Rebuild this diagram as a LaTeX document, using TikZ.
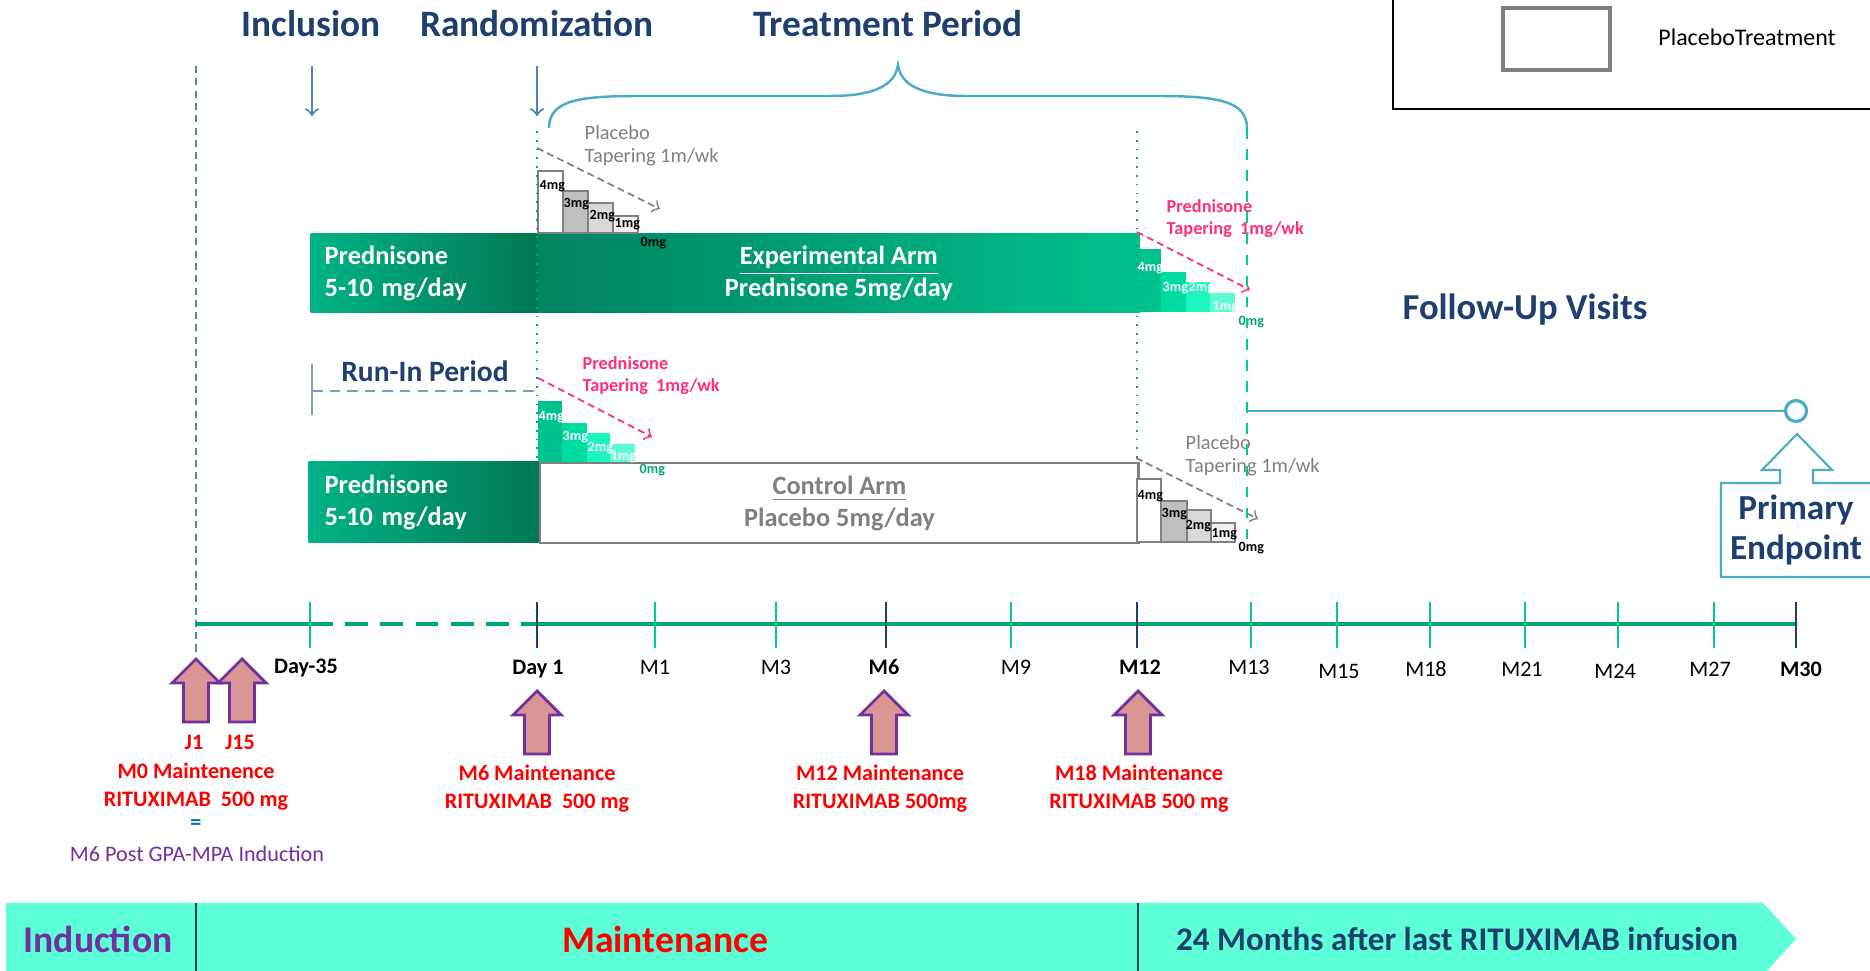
\documentclass[tikz,border=0pt]{standalone}
\usepackage{fontspec}
\setmainfont{Carlito}
\usepackage{xcolor}
\usepackage{tikz}

\definecolor{navy}{HTML}{1F3F6F}
\definecolor{arrowblue}{HTML}{4F81BD}
\definecolor{runblue}{HTML}{7F9CC8}
\definecolor{tealblue}{HTML}{4BACC6}
\definecolor{predL}{HTML}{00B386}
\definecolor{predR}{HTML}{007853}
\definecolor{expL}{HTML}{00845E}
\definecolor{expR}{HTML}{00C08E}
\definecolor{step4}{HTML}{00C28F}
\definecolor{step3}{HTML}{00DDA2}
\definecolor{step2}{HTML}{1CF5C0}
\definecolor{step1}{HTML}{5CFBD5}
\definecolor{zerogreen}{HTML}{00A478}
\definecolor{stepgray}{HTML}{808080}
\definecolor{pinkred}{HTML}{FF2E7E}
\definecolor{axisgreen}{HTML}{00A676}
\definecolor{mint}{HTML}{00CC90}
\definecolor{rtxred}{HTML}{FF0000}
\definecolor{rtxpurple}{HTML}{7030A0}
\definecolor{rtxfill}{HTML}{D99694}
\definecolor{eqblue}{HTML}{0070C0}
\definecolor{band}{HTML}{5CFFD6}

\begin{document}
\begin{tikzpicture}[
    x=0.01cm, y=-0.01cm,
    heading/.style={
        text=navy,
        font=\fontsize{10.6}{12}\selectfont\bfseries
    },
    predbox/.style={
        anchor=north west,
        inner xsep=0.14cm,
        text width=1.99cm,
        align=left,
        text=white,
        left color=predL,
        right color=predR,
        font=\fontsize{7.5}{9}\selectfont\bfseries
    },
    armbox/.style={
        anchor=north west,
        align=center,
        font=\fontsize{7.5}{9.1}\selectfont\bfseries
    },
    placebostep/.style={
        draw=stepgray,
        line width=0.6pt
    },
    mg/.style={
        anchor=west,
        inner sep=0pt,
        font=\fontsize{4}{4}\selectfont\bfseries
    },
    taper/.style={
        anchor=west,
        align=left,
        inner sep=0pt
    },
    arrow/.style={
        ->,
        draw=arrowblue,
        line width=0.6pt
    },
    taperarrow/.style={
        ->,
        dash pattern=on 2pt off 1.2pt,
        line width=0.5pt
    },
    tick/.style={
        draw=mint,
        line width=0.8pt
    },
    keytick/.style={
        draw=navy,
        line width=0.8pt
    },
    ticklabel/.style={
        font=\fontsize{6.3}{7}\selectfont
    },
    keylabel/.style={
        font=\fontsize{6.3}{7}\selectfont\bfseries
    },
    dose/.style={
        text=rtxred,
        align=center,
        font=\fontsize{6.3}{8}\selectfont\bfseries
    },
    phase/.style={
        font=\fontsize{10.7}{12}\selectfont\bfseries
    },
    rtxarrow/.pic={
        \draw[draw=rtxpurple, fill=rtxfill, line width=0.8pt, line join=miter]
            (0,0) -- (24,24) -- (12.5,24) -- (12.5,63) -- (-12.5,63)
            -- (-12.5,24) -- (-24,24) -- cycle;
    }
]

\useasboundingbox (0,0) rectangle (1870,971);

% Legend
\draw[line width=0.5pt] (1393,-5) rectangle (1880,109);
\draw[stepgray, line width=0.9pt] (1503,8) rectangle (1610,70);
\node[font=\fontsize{6.8}{8}\selectfont] (legend) at (1747,37) {PlaceboTreatment};

% Headings
\node[heading] (incl) at (311,24) {Inclusion};
\node[heading] (rando) at (537,24) {Randomization};
\node[heading] (treat) at (888,24) {Treatment Period};

\coordinate (inclA) at (312,66);
\coordinate (inclB) at (312,116);
\coordinate (randoA) at (537,66);
\coordinate (randoB) at (537,116);
\draw[arrow] (inclA) -- (inclB);
\draw[arrow] (randoA) -- (randoB);

% Brace over treatment period
\draw[tealblue, line width=0.7pt]
    (549,128) .. controls (549,100) and (580,96) .. (640,96) -- (830,96)
    .. controls (875,96) and (895,85) .. (898,65)
    .. controls (901,85) and (921,96) .. (966,96) -- (1155,96)
    .. controls (1215,96) and (1247,100) .. (1247,128);

% Induction limit
\draw[arrowblue, line width=0.4pt, dash pattern=on 2pt off 1.5pt] (196,66) -- (196,656);

% Experimental arm
\node[predbox, minimum width=2.27cm, minimum height=0.79cm] (predA) at (310,233)
{Prednisone\\5-10 mg/day};
\node[armbox, text=white, left color=expL, right color=expR,
      minimum width=6.02cm, minimum height=0.79cm] (expArm) at (537,233)
{\underline{Experimental Arm}\\Prednisone 5mg/day};

% Placebo steps (experimental arm)
\draw[placebostep, fill=white] (538,171) rectangle (563,233);
\draw[placebostep, fill=black!25] (563,191) rectangle (588,233);
\draw[placebostep, fill=black!15] (588,203) rectangle (613,233);
\draw[placebostep, fill=black!5] (613,216) rectangle (638,233);
\node[mg] (pa4) at (539,186) {4mg};
\node[mg] (pa3) at (563,204) {3mg};
\node[mg] (pa2) at (589,216) {2mg};
\node[mg] (pa1) at (614,224) {1mg};
\node[mg] (pa0) at (640,243) {0mg};
\coordinate (paA) at (537,148);
\coordinate (paB) at (660,209);
\draw[taperarrow, draw=gray] (paA) -- (paB);
\node[taper, text=gray, font=\fontsize{5.8}{6.5}\selectfont] (paText) at (584,146)
{Placebo\\Tapering 1m/wk};

% Prednisone steps (experimental arm)
\fill[step4] (1137,249) rectangle (1161,312);
\fill[step3] (1161,272) rectangle (1186,312);
\fill[step2] (1186,282) rectangle (1210,312);
\fill[step1] (1210,293) rectangle (1235,312);
\node[mg, text=white] (pb4) at (1137,268) {4mg};
\node[mg, text=white] (pb3) at (1162,288) {3mg};
\node[mg, text=white] (pb2) at (1188,288) {2mg};
\node[mg, text=white] (pb1) at (1212,307) {1mg};
\node[mg, text=zerogreen] (pb0) at (1238,322) {0mg};
\coordinate (pbA) at (1137,232);
\coordinate (pbB) at (1250,290);
\draw[taperarrow, draw=pinkred] (pbA) -- (pbB);
\node[taper, text=pinkred, font=\fontsize{5.2}{6.3}\selectfont\bfseries] (pbText) at (1166,219)
{Prednisone\\Tapering\ \ 1mg/wk};

% Run-in period
\node[text=navy, font=\fontsize{8.4}{10}\selectfont\bfseries] (runin) at (425,371) {Run-In Period};
\coordinate (runA) at (312,391);
\coordinate (runB) at (537,391);
\draw[runblue, line width=0.6pt] (312,364) -- (312,415);
\draw[runblue, line width=0.8pt, dash pattern=on 3pt off 2pt] (runA) -- (runB);

% Control arm
\node[predbox, minimum width=2.31cm, minimum height=0.81cm] (predB) at (308,461)
{Prednisone\\5-10 mg/day};
\node[armbox, text=stepgray, draw=stepgray, line width=0.7pt, fill=white,
      minimum width=5.98cm, minimum height=0.80cm] (ctrlArm) at (539,462)
{\underline{Control Arm}\\Placebo 5mg/day};

% Prednisone steps (control arm)
\fill[step4] (538,401) rectangle (562,462);
\fill[step3] (562,423) rectangle (587,462);
\fill[step2] (587,433) rectangle (610,462);
\fill[step1] (610,444) rectangle (635,462);
\node[mg, text=white] (pc4) at (538,417) {4mg};
\node[mg, text=white] (pc3) at (562,437) {3mg};
\node[mg, text=white] (pc2) at (587,448) {2mg};
\node[mg, text=white] (pc1) at (610,457) {1mg};
\node[mg, text=zerogreen] (pc0) at (639,470) {0mg};
\coordinate (pcA) at (538,378);
\coordinate (pcB) at (652,437);
\draw[taperarrow, draw=pinkred] (pcA) -- (pcB);
\node[taper, text=pinkred, font=\fontsize{5.2}{6.3}\selectfont\bfseries] (pcText) at (582,376)
{Prednisone\\Tapering\ \ 1mg/wk};

% Placebo steps (control arm)
\draw[placebostep, fill=white] (1137,479) rectangle (1161,542);
\draw[placebostep, fill=black!25] (1161,501) rectangle (1187,542);
\draw[placebostep, fill=black!15] (1187,510) rectangle (1211,542);
\draw[placebostep, fill=black!5] (1211,523) rectangle (1235,542);
\node[mg] (pd4) at (1137,496) {4mg};
\node[mg] (pd3) at (1161,514) {3mg};
\node[mg] (pd2) at (1185,526) {2mg};
\node[mg] (pd1) at (1211,534) {1mg};
\node[mg] (pd0) at (1238,548) {0mg};
\coordinate (pdA) at (1136,458);
\coordinate (pdB) at (1258,519);
\draw[taperarrow, draw=gray] (pdA) -- (pdB);
\node[taper, text=gray, font=\fontsize{5.8}{6.5}\selectfont] (pdText) at (1185,456)
{Placebo\\Tapering 1m/wk};

% Period limits
\draw[zerogreen, line width=0.5pt, dotted] (537,131) -- (537,465);
\draw[zerogreen, line width=0.5pt, dotted] (1137,131) -- (1137,465);
\draw[mint, line width=0.5pt, dash pattern=on 3pt off 3pt] (1247,128) -- (1247,550);

% Follow-up
\node[heading, font=\fontsize{10.4}{12}\selectfont\bfseries] (follow) at (1525,310) {Follow-Up Visits};
\coordinate (followA) at (1247,411);
\node[circle, draw=tealblue, line width=0.9pt, fill=white, minimum size=0.21cm, inner sep=0pt]
    (endpt) at (1796,411) {};
\draw[tealblue, line width=0.7pt] (followA) -- (endpt);

% Primary endpoint callout
\draw[tealblue, line width=0.6pt, fill=white]
    (1880,483) -- (1813,483) -- (1813,470) -- (1832,470) -- (1797,434)
    -- (1762,470) -- (1780,470) -- (1780,483) -- (1721,483)
    -- (1721,577) -- (1880,577);
\node[text=navy, align=center, font=\fontsize{10}{11.2}\selectfont\bfseries] (primary) at (1796,530)
{Primary\\Endpoint};

% Timeline
\coordinate (t0) at (196,624);
\coordinate (tD35) at (310,624);
\coordinate (tD1) at (537,624);
\coordinate (tM30) at (1796,624);
\draw[axisgreen, line width=1.4pt] (t0) -- (tD35);
\draw[axisgreen, line width=1.4pt, dash pattern=on 6.5pt off 3.5pt] (tD35) -- (tD1);
\draw[axisgreen, line width=1.4pt] (tD1) -- (tM30);

\draw[tick] (310,602) -- (310,648);
\draw[keytick] (537,602) -- (537,648);
\draw[tick] (655,602) -- (655,648);
\draw[tick] (776,602) -- (776,648);
\draw[keytick] (886,602) -- (886,648);
\draw[tick] (1011,602) -- (1011,648);
\draw[keytick] (1137,602) -- (1137,648);
\draw[tick] (1251,602) -- (1251,648);
\draw[tick] (1337,602) -- (1337,648);
\draw[tick] (1430,602) -- (1430,648);
\draw[tick] (1525,602) -- (1525,648);
\draw[tick] (1618,602) -- (1618,648);
\draw[tick] (1714,602) -- (1714,648);
\draw[keytick] (1796,602) -- (1796,648);

\node[keylabel] (lD35) at (306,668) {Day-35};
\node[keylabel] (lD1) at (538,669) {Day 1};
\node[ticklabel] (lM1) at (655,667) {M1};
\node[ticklabel] (lM3) at (776,667) {M3};
\node[keylabel] (lM6) at (884,667) {M6};
\node[ticklabel] (lM9) at (1016,667) {M9};
\node[keylabel] (lM12) at (1140,667) {M12};
\node[ticklabel] (lM13) at (1249,667) {M13};
\node[ticklabel] (lM15) at (1339,671) {M15};
\node[ticklabel] (lM18) at (1426,669) {M18};
\node[ticklabel] (lM21) at (1522,669) {M21};
\node[ticklabel] (lM24) at (1615,671) {M24};
\node[ticklabel] (lM27) at (1710,669) {M27};
\node[keylabel] (lM30) at (1801,669) {M30};

% Rituximab infusions
\pic (rJ1) at (196,659) {rtxarrow};
\pic (rJ15) at (242,659) {rtxarrow};
\pic (rM6) at (537,691) {rtxarrow};
\pic (rM12) at (884,691) {rtxarrow};
\pic (rM18) at (1138,691) {rtxarrow};

\node[dose] (dJ1) at (194,742) {J1};
\node[dose] (dJ15) at (240,742) {J15};
\node[dose] (dM0) at (196,787) {M0 Maintenence\\RITUXIMAB\ \ 500 mg};
\node[text=eqblue, font=\fontsize{6.3}{8}\selectfont\bfseries] (dEq) at (196,825) {=};
\node[text=rtxpurple, font=\fontsize{6.3}{8}\selectfont] (dPost) at (197,854) {M6 Post GPA-MPA Induction};
\node[dose] (dM6) at (537,789) {M6 Maintenance\\RITUXIMAB\ \ 500 mg};
\node[dose] (dM12) at (880,789) {M12 Maintenance\\RITUXIMAB 500mg};
\node[dose] (dM18) at (1139,789) {M18 Maintenance\\RITUXIMAB 500 mg};

% Phases
\fill[band] (6,903) -- (1763,903) -- (1796,939) -- (1763,975) -- (6,975) -- cycle;
\draw[navy, line width=0.3pt] (196,903) -- (196,975);
\draw[navy, line width=0.3pt] (1138,903) -- (1138,975);
\node[phase, text=rtxpurple] (induction) at (98,939) {Induction};
\node[phase, text=rtxred] (maint) at (665,939) {Maintenance};
\node[phase, text=navy, font=\fontsize{9.4}{11}\selectfont\bfseries] (after) at (1457,939)
{24 Months after last RITUXIMAB infusion};

\end{tikzpicture}
\end{document}
